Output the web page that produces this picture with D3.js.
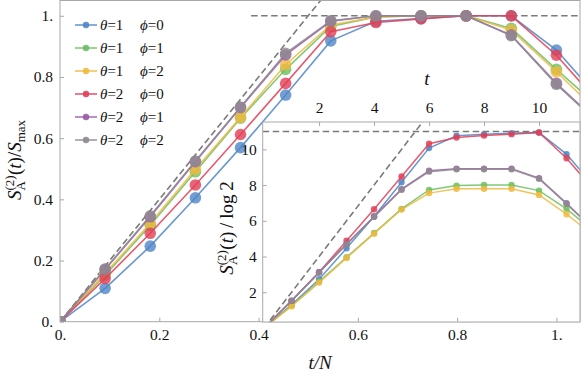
<!DOCTYPE html>
<html>
<head>
<meta charset="utf-8">
<script src="https://cdn.jsdelivr.net/npm/d3@7"></script>
<style>
  body { margin: 0; background: #fff; }
  svg { display: block; }
</style>
</head>
<body>
<svg id="chart"></svg>
<script>
const W = 581, H = 376;
const serif = "'Liberation Serif', 'DejaVu Serif', serif";

// time steps, N = 11 sites
const steps = [0, 1, 2, 3, 4, 5, 6, 7, 8, 9, 10, 11, 12];
const N = 11;

// legend labels
const thetaLabels = ["1", "1", "1", "2", "2", "2"];
const phiLabels   = ["0", "1", "2", "0", "1", "2"];
const colors = ["#4f86c6", "#6cbf5f", "#f0b93e", "#e23e55", "#9a5aa8", "#8e8a90"];

// main panel: S_A(t)/S_max
const ratio_th1_ph0 = [0, 0.109, 0.247, 0.405, 0.569, 0.741, 0.918, 0.982, 0.991, 1.0, 1.0, 0.888, 0.721];
const ratio_th1_ph1 = [0, 0.152, 0.315, 0.490, 0.665, 0.825, 0.965, 0.996, 1.0, 1.0, 0.959, 0.825, 0.693];
const ratio_th1_ph2 = [0, 0.158, 0.322, 0.498, 0.668, 0.840, 0.970, 0.996, 1.0, 1.0, 0.953, 0.817, 0.674];
const ratio_th2_ph0 = [0, 0.141, 0.289, 0.447, 0.612, 0.779, 0.948, 0.978, 0.990, 1.0, 1.0, 0.871, 0.705];
const ratio_th2_ph1 = [0, 0.171, 0.343, 0.523, 0.700, 0.872, 0.982, 1.0, 1.0, 1.0, 0.937, 0.779, 0.642];
const ratio_th2_ph2 = [0, 0.172, 0.346, 0.525, 0.702, 0.877, 0.984, 1.0, 1.0, 1.0, 0.935, 0.776, 0.640];

// inset: S_A(t)/log 2
const bits_th1_ph0 = [0, 1.30, 2.73, 4.46, 6.24, 8.16, 10.07, 10.76, 10.85, 10.91, 10.94, 9.73, 7.93];
const bits_th1_ph1 = [0, 1.25, 2.60, 3.96, 5.32, 6.67, 7.73, 7.97, 8.00, 8.00, 7.69, 6.67, 5.40];
const bits_th1_ph2 = [0, 1.22, 2.54, 3.92, 5.28, 6.63, 7.55, 7.79, 7.79, 7.79, 7.45, 6.37, 5.15];
const bits_th2_ph0 = [0, 1.52, 3.12, 4.89, 6.65, 8.48, 10.31, 10.66, 10.77, 10.85, 10.94, 9.50, 7.73];
const bits_th2_ph1 = [0, 1.53, 3.12, 4.70, 6.24, 7.77, 8.80, 8.92, 8.92, 8.92, 8.39, 6.98, 5.50];
const bits_th2_ph2 = [0, 1.52, 3.10, 4.68, 6.22, 7.74, 8.75, 8.88, 8.88, 8.88, 8.35, 6.95, 5.48];

// reference levels
const mainMax = 1, insetMax = 11, slopeMain = 2, slopeInset = 2;

// ticks
const mainXTicks = [0, 0.2, 0.4, 0.6, 0.8, 1.0];
const mainXLabels = ["0.", "0.2", "0.4", "0.6", "0.8", "1."];
const mainYTicks = [0, 0.2, 0.4, 0.6, 0.8, 1.0];
const mainYLabels = ["0.", "0.2", "0.4", "0.6", "0.8", "1."];
const insetTTicks = [2, 4, 6, 8, 10];
const insetYTicks = [2, 4, 6, 8, 10];

const mainSeries  = [ratio_th1_ph0, ratio_th1_ph1, ratio_th1_ph2, ratio_th2_ph0, ratio_th2_ph1, ratio_th2_ph2];
const insetSeries = [bits_th1_ph0, bits_th1_ph1, bits_th1_ph2, bits_th2_ph0, bits_th2_ph1, bits_th2_ph2];

const svg = d3.select("#chart").attr("width", W).attr("height", H);

// main frame box
const box = {left: 60, right: 580, top: 0.5, bottom: 321.7};
const x = d3.scaleLinear().domain([0, 1.0475]).range([box.left, box.right]);
const y = d3.scaleLinear().domain([0, 1.05]).range([box.bottom, box.top]);

// inset box
const ib = {left: 262.7, right: 580, top: 122, bottom: 322};
const xi = d3.scaleLinear().domain([-0.05, 11.49]).range([ib.left, ib.right]);
const yi = d3.scaleLinear().domain([0.336, 11.53]).range([ib.bottom, ib.top]);

const defs = svg.append("defs");
defs.append("clipPath").attr("id", "clip-main").append("rect")
  .attr("x", box.left).attr("y", box.top)
  .attr("width", box.right - box.left).attr("height", box.bottom - box.top);
defs.append("clipPath").attr("id", "clip-inset").append("rect")
  .attr("x", ib.left).attr("y", ib.top)
  .attr("width", ib.right - ib.left).attr("height", ib.bottom - ib.top);

const dashStyle = g => g.attr("fill", "none").attr("stroke", "#7a7a7a")
  .attr("stroke-width", 1.6).attr("stroke-dasharray", "6.5,3.5");

// ---- main panel
const gm = svg.append("g").attr("clip-path", "url(#clip-main)");

gm.append("line")
  .attr("x1", x(0)).attr("y1", y(0))
  .attr("x2", x(0.6)).attr("y2", y(slopeMain * 0.6))
  .call(dashStyle);
gm.append("line")
  .attr("x1", x(0.385)).attr("y1", y(mainMax))
  .attr("x2", x(1.0475)).attr("y2", y(mainMax))
  .call(dashStyle);

const lineMain = d3.line()
  .x((d, i) => x(steps[i] / N))
  .y(d => y(d));

mainSeries.forEach(function(vals, k) {
  gm.append("path")
    .datum(vals)
    .attr("d", lineMain)
    .attr("fill", "none")
    .attr("stroke", colors[k])
    .attr("stroke-width", 1.6)
    .attr("stroke-opacity", 0.85);
  gm.selectAll(null)
    .data(vals)
    .enter().append("circle")
      .attr("cx", (d, i) => x(steps[i] / N))
      .attr("cy", d => y(d))
      .attr("r", 5.8)
      .attr("fill", colors[k])
      .attr("fill-opacity", 0.8);
});

svg.append("rect")
  .attr("x", box.left).attr("y", box.top)
  .attr("width", box.right - box.left).attr("height", box.bottom - box.top)
  .attr("fill", "none").attr("stroke", "#a8a8a8").attr("stroke-width", 1);

// ---- inset
svg.append("rect")
  .attr("x", ib.left).attr("y", ib.top)
  .attr("width", ib.right - ib.left).attr("height", ib.bottom - ib.top)
  .attr("fill", "#fff");

const gi = svg.append("g").attr("clip-path", "url(#clip-inset)");

gi.append("line")
  .attr("x1", xi(0)).attr("y1", yi(0))
  .attr("x2", xi(6)).attr("y2", yi(slopeInset * 6))
  .call(dashStyle);
gi.append("line")
  .attr("x1", ib.left).attr("y1", yi(insetMax))
  .attr("x2", ib.right).attr("y2", yi(insetMax))
  .call(dashStyle);

const lineInset = d3.line()
  .x((d, i) => xi(steps[i]))
  .y(d => yi(d));

insetSeries.forEach(function(vals, k) {
  gi.append("path")
    .datum(vals)
    .attr("d", lineInset)
    .attr("fill", "none")
    .attr("stroke", colors[k])
    .attr("stroke-width", 1.5)
    .attr("stroke-opacity", 0.85);
  gi.selectAll(null)
    .data(vals)
    .enter().append("circle")
      .attr("cx", (d, i) => xi(steps[i]))
      .attr("cy", d => yi(d))
      .attr("r", 3.2)
      .attr("fill", colors[k])
      .attr("fill-opacity", 0.85);
});

svg.append("rect")
  .attr("x", ib.left).attr("y", ib.top)
  .attr("width", ib.right - ib.left).attr("height", ib.bottom - ib.top)
  .attr("fill", "none").attr("stroke", "#a8a8a8").attr("stroke-width", 1);

// ---- axes
function styleAxis(g) {
  g.select(".domain").remove();
  g.selectAll(".tick line").attr("stroke", "#a8a8a8");
  g.selectAll(".tick text")
    .attr("fill", "#111")
    .style("font-family", serif)
    .style("font-size", "15.5px");
}

svg.append("g")
  .attr("transform", "translate(0," + box.bottom + ")")
  .call(d3.axisBottom(x).tickValues(mainXTicks)
    .tickFormat((d, i) => mainXLabels[i]).tickSize(-4).tickPadding(7))
  .call(styleAxis);

svg.append("g")
  .attr("transform", "translate(" + box.left + ",0)")
  .call(d3.axisLeft(y).tickValues(mainYTicks)
    .tickFormat((d, i) => mainYLabels[i]).tickSize(-4).tickPadding(7))
  .call(styleAxis);

svg.append("g")
  .attr("transform", "translate(" + ib.left + ",0)")
  .call(d3.axisLeft(yi).tickValues(insetYTicks).tickSize(-4).tickPadding(6))
  .call(styleAxis);

svg.append("g")
  .attr("transform", "translate(0," + ib.top + ")")
  .call(d3.axisTop(xi).tickValues(insetTTicks).tickSize(-4).tickPadding(9))
  .call(styleAxis);

// ---- axis titles
function entropyLabel(g, tail) {
  const t = g.append("text")
    .attr("text-anchor", "middle")
    .attr("fill", "#111")
    .style("font-family", serif)
    .style("font-size", "19px");
  t.append("tspan").style("font-style", "italic").text("S");
  t.append("tspan").attr("dy", -7).style("font-size", "13px").text("(2)");
  t.append("tspan").attr("dx", -15).attr("dy", 11).style("font-size", "13px").text("A");
  t.append("tspan").attr("dx", 6).attr("dy", -4).text("(");
  t.append("tspan").style("font-style", "italic").text("t");
  t.append("tspan").text(")");
  tail(t);
}

entropyLabel(svg.append("g").attr("transform", "translate(21,160) rotate(-90)"), function(t) {
  t.append("tspan").text("/");
  t.append("tspan").style("font-style", "italic").text("S");
  t.append("tspan").attr("dy", 4).style("font-size", "13px").text("max");
});

entropyLabel(svg.append("g").attr("transform", "translate(233,228) rotate(-90)"), function(t) {
  t.append("tspan").text("\u2009/\u2009log\u20092");
});

svg.append("text")
  .attr("x", (box.left + box.right) / 2).attr("y", 369)
  .attr("text-anchor", "middle")
  .attr("fill", "#111")
  .style("font-family", serif).style("font-size", "19px").style("font-style", "italic")
  .text("t/N");

svg.append("text")
  .attr("x", 427).attr("y", 85)
  .attr("text-anchor", "middle")
  .attr("fill", "#111")
  .style("font-family", serif).style("font-size", "19px").style("font-style", "italic")
  .text("t");

// ---- legend
const legend = svg.append("g");
const rowY = d3.scaleLinear().domain([0, 5]).range([25, 140]);

colors.forEach(function(c, k) {
  const row = legend.append("g").attr("transform", "translate(0," + rowY(k) + ")");
  row.append("line")
    .attr("x1", 75).attr("x2", 97)
    .attr("stroke", c).attr("stroke-width", 1.6).attr("stroke-opacity", 0.85);
  row.append("circle")
    .attr("cx", 86).attr("r", 3.2)
    .attr("fill", c).attr("fill-opacity", 0.9);
  const t1 = row.append("text").attr("x", 100).attr("y", 5)
    .attr("fill", "#111")
    .style("font-family", serif).style("font-size", "15px");
  t1.append("tspan").style("font-style", "italic").text("\u03b8");
  t1.append("tspan").text("=" + thetaLabels[k]);
  const t2 = row.append("text").attr("x", 140).attr("y", 5)
    .attr("fill", "#111")
    .style("font-family", serif).style("font-size", "15px");
  t2.append("tspan").style("font-style", "italic").text("\u03d5");
  t2.append("tspan").text("=" + phiLabels[k]);
});
</script>
</body>
</html>
